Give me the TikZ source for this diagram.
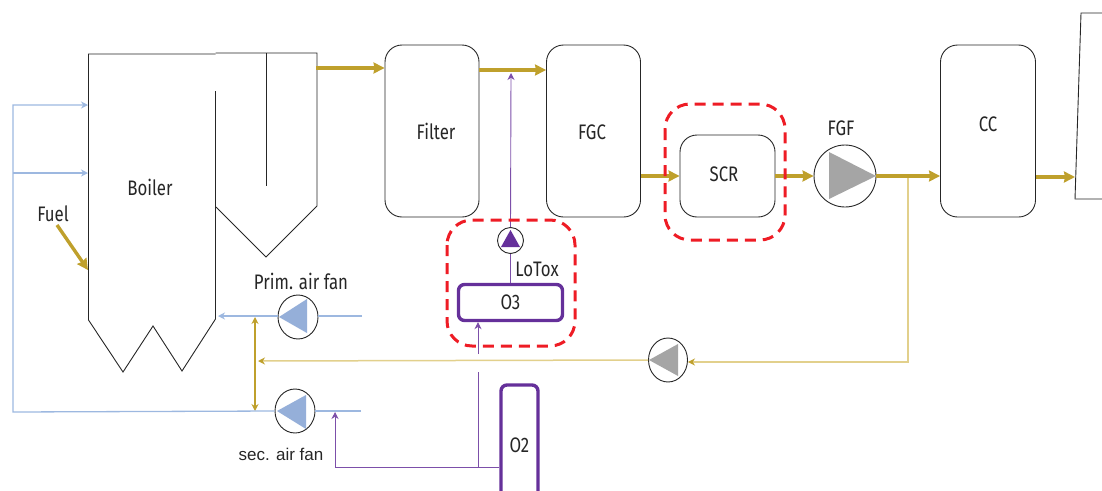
\documentclass[tikz,border=0pt]{standalone}
\usepackage{fontspec}
\setmainfont[FakeStretch=0.8]{Fira Sans}
\newfontfamily\arialfont{Liberation Sans}
\usetikzlibrary{arrows.meta, positioning, shapes.geometric, calc}

\definecolor{gasgold}{HTML}{BFA02C}
\definecolor{palegold}{HTML}{E2D08C}
\definecolor{airblue}{HTML}{9DB8E0}
\definecolor{fanblue}{HTML}{95AFD9}
\definecolor{fangray}{HTML}{A5A5A5}
\definecolor{oxpurple}{HTML}{65309A}
\definecolor{dashred}{HTML}{EE1C25}

\tikzset{
  unitbox/.style={draw=black!85, line width=0.9pt, rounded corners=17pt, inner sep=0pt},
  oxbox/.style={draw=oxpurple, line width=3.4pt, rounded corners=6pt, inner sep=0pt, text=black!85, font=\fontsize{21}{23}\selectfont},
  fan/.style={draw=black!85, fill=white, line width=0.9pt, ellipse, inner sep=0pt},
  label/.style={inner sep=0pt, font=\fontsize{21}{23}\selectfont, text=black!85},
  wall/.style={black!85, line width=0.9pt},
  gas/.style={draw=gasgold, line width=3.4pt, -{Stealth[length=11pt,width=11pt,inset=1pt]}},
  recycle/.style={draw=palegold, line width=1.5pt},
  goldtip/.style={-{Stealth[length=7pt,width=7pt,color=gasgold]}},
  gold/.style={draw=gasgold, line width=1.1pt},
  air/.style={draw=airblue, line width=1.3pt},
  ox/.style={draw=oxpurple!85, line width=0.9pt},
  thintip/.style={-{Stealth[length=7pt,width=7pt]}},
  zone/.style={draw=dashred, line width=3pt, dash pattern=on 11pt off 7pt, rounded corners=25pt}
}

\begin{document}
\begin{tikzpicture}[>=Stealth, x=1pt, y=-1pt]
  \clip (0,0) rectangle (1102,490);

  % Boiler
  \draw[wall] (215.5,91) -- (215.5,319) -- (182,371) -- (153,326)
    -- (123,372) -- (88.5,320) -- (88.5,54) -- (215.5,54);
  \draw[wall] (215.5,53) -- (317,53) -- (317,206) -- (266,257) -- (216,207);
  \draw[wall] (266,53) -- (266,186);
  \node[label] (boiler) at (150,187) {Boiler};
  \node[label] (fuel) at (53,214) {Fuel};

  % Units
  \node[unitbox, minimum width=94pt, minimum height=172pt] (filter) at (432,131) {};
  \node[label] (filtertxt) at (436,131) {Filter};
  \node[unitbox, minimum width=94pt, minimum height=172pt] (fgc) at (593.5,131) {};
  \node[label] (fgctxt) at (592,132) {FGC};
  \node[unitbox, minimum width=95pt, minimum height=82pt] (scr) at (727.5,176) {};
  \node[label] (scrtxt) at (724,174) {SCR};
  \node[unitbox, minimum width=95pt, minimum height=172pt] (cc) at (988,131) {};
  \node[label] (cctxt) at (988,124) {CC};
  \node[oxbox, minimum width=104pt, minimum height=36pt] (othree) at (510.5,302.5) {O3};
  \node[oxbox, minimum width=37pt, minimum height=120pt] (otwo) at (519.5,445) {O2};

  % Stack
  \draw[wall] (1110,13) -- (1081,13) -- (1075,199) -- (1110,199);
  \coordinate (stackin) at (1075,177);

  % Fans
  \node[fan, minimum width=62pt, minimum height=62pt] (fgf) at (845,176) {};
  \fill[fangray] (829,152) -- (876,176) -- (829,199) -- cycle;
  \node[label] (fgftxt) at (841,128) {FGF};
  \node[fan, minimum width=40pt, minimum height=44pt] (primfan) at (298,317) {};
  \fill[fanblue] (279,317) -- (307,299) -- (307,333) -- cycle;
  \node[label] (primtxt) at (301,281) {Prim. air fan};
  \node[fan, minimum width=40pt, minimum height=44pt] (secfan) at (295,411) {};
  \fill[fanblue] (277,411) -- (306,395) -- (306,429) -- cycle;
  \node[inner sep=0pt, text=black!85, font=\arialfont\fontsize{17}{20}\selectfont] (sectxt) at (281,454) {sec. air fan};
  \node[fan, minimum width=39pt, minimum height=44pt] (recfan) at (668,360) {};
  \fill[fangray] (649,360) -- (678,344) -- (678,376) -- cycle;
  \node[fan, minimum width=26pt, minimum height=26pt] (lofan) at (510.5,240.5) {};
  \fill[oxpurple] (510.5,230) -- (520,247) -- (501,247) -- cycle;
  \node[label] (lotxt) at (537,269) {LoTox};

  % Flue gas
  \coordinate (boilerout) at (316,68);
  \coordinate (fueltail) at (57,225);
  \coordinate (fueltip) at (88,270);
  \coordinate (fgcin) at (0,70);
  \draw[gas] (boilerout) -- (filter.west |- boilerout);
  \draw[gas] (fueltail) -- (fueltip);
  \draw[gas] (filter.east |- fgcin) -- (fgc.west |- fgcin);
  \draw[gas] (fgc.east |- scr.west) -- (scr.west);
  \draw[gas] (scr.east) -- (fgf.west);
  \draw[gas] (fgf.east) -- (cc.west |- fgf.east);
  \draw[gas] (cc.east |- stackin) -- (stackin);

  % Recycle
  \coordinate (branch) at (908,178);
  \coordinate (bend) at (908,362);
  \coordinate (recend) at (258,361);
  \coordinate (priminj) at (255,317);
  \coordinate (secinj) at (255,411);
  \draw[recycle, goldtip] (branch) -- (bend) -- (recfan.east |- bend);
  \draw[recycle, goldtip] (recfan.west) -- (recend);
  \draw[gold, {Stealth[length=7pt,width=7pt]}-{Stealth[length=7pt,width=7pt]}] (priminj) -- (secinj);

  % Air
  \coordinate (primin) at (362,316);
  \coordinate (primout) at (218,316);
  \coordinate (secin) at (361,411);
  \coordinate (airline) at (13,412);
  \coordinate (topinj) at (88,105);
  \coordinate (midinj) at (88,173);
  \draw[air] (primin) -- (primfan.east |- primin);
  \draw[air, thintip] (primfan.west |- primin) -- (primout);
  \draw[air] (secin) -- (secfan.east |- secin);
  \draw[air, thintip] (secfan.west) -- (airline) -- (airline |- topinj) -- (topinj);
  \draw[air, thintip] (airline |- midinj) -- (midinj);

  % Oxygen
  \coordinate (gapbot) at (478,372);
  \coordinate (gaptop) at (478,354);
  \coordinate (oxjoin) at (478,467);
  \coordinate (secox) at (335,412);
  \coordinate (oxtip) at (511,73);
  \draw[ox] (otwo.west |- oxjoin) -- (oxjoin) -- (gapbot);
  \draw[ox, thintip] (gaptop) -- (othree.south -| gaptop);
  \draw[ox, thintip] (oxjoin) -- (oxjoin -| secox) -- (secox);
  \draw[ox] (othree.north -| lofan) -- (lofan.south);
  \draw[ox, thintip] (lofan.north) -- (oxtip);

  % Zones
  \draw[zone] (447,220) rectangle (575,346);
  \draw[zone] (665,104) rectangle (785,240);
\end{tikzpicture}
\end{document}
